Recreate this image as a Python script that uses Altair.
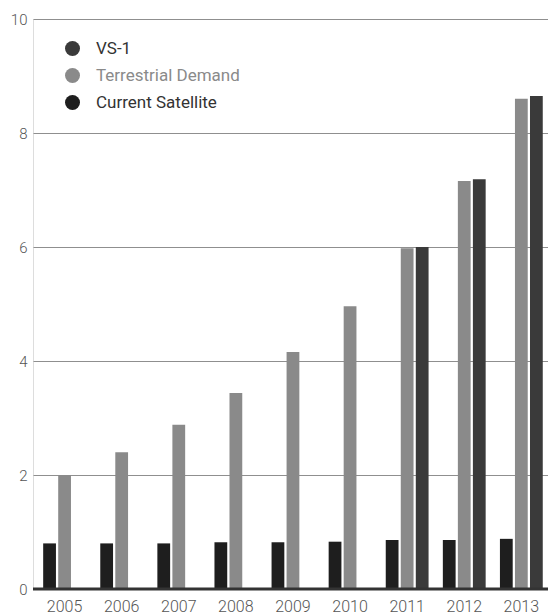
import altair as alt
import pandas as pd

years = ["2005", "2006", "2007", "2008", "2009", "2010", "2011", "2012", "2013"]
current_satellite = [0.80, 0.80, 0.80, 0.82, 0.82, 0.83, 0.86, 0.86, 0.88]
terrestrial_demand = [2.00, 2.40, 2.88, 3.44, 4.16, 4.96, 5.98, 7.16, 8.60]
vs1 = [None, None, None, None, None, None, 6.00, 7.19, 8.65]

series_legend = ["VS-1", "Terrestrial Demand", "Current Satellite"]
series_colors = ["#3a3a3a", "#8a8a8a", "#1e1e1e"]
offset_order = ["Current Satellite", "Terrestrial Demand", "VS-1"]
y_ticks = [0, 2, 4, 6, 8, 10]

rows = []
for i, yr in enumerate(years):
    rows.append({"year": yr, "series": "Current Satellite", "value": current_satellite[i]})
    rows.append({"year": yr, "series": "Terrestrial Demand", "value": terrestrial_demand[i]})
    if vs1[i] is not None:
        rows.append({"year": yr, "series": "VS-1", "value": vs1[i]})
df = pd.DataFrame(rows)

FONT = "Roboto"

bars = alt.Chart(df).mark_bar().encode(
    x=alt.X("year:N", sort=years, title=None,
            scale=alt.Scale(paddingInner=0.25, paddingOuter=0.135, align=0.66),
            axis=alt.Axis(labelAngle=0, ticks=False, domain=False, labelPadding=9,
                          labelFontSize=16, labelColor="#555555", labelFont=FONT,
                          labelFontWeight=300)),
    xOffset=alt.XOffset("series:N", sort=offset_order,
                        scale=alt.Scale(paddingInner=0.15, paddingOuter=0)),
    y=alt.Y("value:Q", title=None,
            scale=alt.Scale(domain=[0, 10], nice=False),
            axis=alt.Axis(values=y_ticks, format="d", ticks=False, domain=False, grid=True,
                          gridColor="#8f8f8f", gridWidth=1, labelPadding=6,
                          labelFontSize=15, labelColor="#555555", labelFont=FONT,
                          labelFontWeight=300)),
    color=alt.Color("series:N",
                    scale=alt.Scale(domain=series_legend, range=series_colors),
                    legend=alt.Legend(
                        title=None, orient="none", legendX=31, legendY=21,
                        symbolType="circle", symbolSize=225, symbolStrokeWidth=0,
                        labelFontSize=17, labelFont=FONT, labelOffset=15,
                        rowPadding=9, padding=0,
                        labelColor={"expr": "datum.label == 'Terrestrial Demand' ? '#8a8a8a' : '#333333'"})),
)

baseline = alt.Chart(pd.DataFrame({"zero": [0]})).mark_rule(
    color="#333333", strokeWidth=3).encode(y="zero:Q")

chart = alt.layer(bars, baseline).properties(
    width=515, height=570,
    padding={"left": 33, "top": 19, "right": 0, "bottom": 27},
    autosize=alt.AutoSizeParams(type="none"),
).configure_view(stroke=None).configure(background="white")

chart.save("out.html", embed_options={"renderer": "svg", "actions": False})
